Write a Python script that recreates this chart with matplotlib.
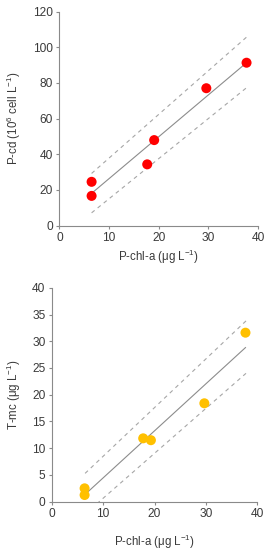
import matplotlib
matplotlib.use("Agg")
import matplotlib.pyplot as plt
import numpy as np

plt.rcParams['font.family'] = ['Liberation Sans', 'DejaVu Sans']
plt.rcParams['mathtext.fontset'] = 'custom'
plt.rcParams['mathtext.rm'] = 'Liberation Sans'
plt.rcParams['mathtext.it'] = 'Liberation Sans'
plt.rcParams['mathtext.default'] = 'regular'

# --- data (top panel) ---
chl_top = [6.5, 6.5, 17.7, 19.1, 29.6, 37.7]
pcd = [24.5, 16.6, 34.3, 47.9, 77.0, 91.3]
band_x_top = [6.5, 37.8]
upper_top = [29.2, 105.9]
lower_top = [7.1, 77.5]

# --- data (bottom panel) ---
chl_bot = [6.4, 6.4, 17.8, 19.3, 29.7, 37.7]
tmc = [2.5, 1.25, 11.85, 11.5, 18.4, 31.6]
band_x_bot = [6.5, 37.8]
upper_bot = [5.3, 33.8]
lower_bot = [-2.3, 24.0]

xticks = [0, 10, 20, 30, 40]
yticks_top = [0, 20, 40, 60, 80, 100, 120]
yticks_bot = [0, 5, 10, 15, 20, 25, 30, 35, 40]

fig = plt.figure(figsize=(2.69, 5.5), dpi=100)
ax1 = fig.add_axes([0.2205, 0.590, 0.7385, 0.389])
ax2 = fig.add_axes([0.1922, 0.0878, 0.7643, 0.389])

spine_c = '#8a8a8a'
text_c = '#3a3a3a'

def style(ax, yticks, ymax):
    ax.set_xlim(0, 40)
    ax.set_ylim(0, ymax)
    ax.set_xticks(xticks)
    ax.set_yticks(yticks)
    for s in ['top', 'right']:
        ax.spines[s].set_visible(False)
    for s in ['left', 'bottom']:
        ax.spines[s].set_color(spine_c)
        ax.spines[s].set_linewidth(0.8)
    ax.tick_params(direction='out', length=2.5, width=0.8, color=spine_c,
                   labelsize=8.6, labelcolor=text_c, pad=2)

def draw(ax, x, y, bx, up, lo, color):
    coef = np.polyfit(x, y, 1)
    fx = np.array([min(x), max(x)])
    ax.plot(fx, np.polyval(coef, fx), color='#8c8c8c', lw=0.8, zorder=2)
    ax.plot(bx, up, color='#a6a6a6', lw=0.8, ls=(0, (3.5, 3.5)), zorder=2)
    ax.plot(bx, lo, color='#a6a6a6', lw=0.8, ls=(0, (3.5, 3.5)), zorder=2)
    ax.scatter(x, y, s=52, color=color, edgecolors='none', zorder=3)

draw(ax1, chl_top, pcd, band_x_top, upper_top, lower_top, '#ff0000')
style(ax1, yticks_top, 120)
ax1.set_xlabel(r'P-chl-a (μg L$^{-1}$)', fontsize=8.3, color=text_c, labelpad=3)
ax1.set_ylabel(r'P-cd (10$^{6}$ cell L$^{-1}$)', fontsize=8.3, color=text_c, labelpad=7)

draw(ax2, chl_bot, tmc, band_x_bot, upper_bot, lower_bot, '#ffc000')
style(ax2, yticks_bot, 40)
ax2.set_xlabel(r'P-chl-a (μg L$^{-1}$)', fontsize=8.3, color=text_c, labelpad=9)
ax2.set_ylabel(r'T-mc (μg L$^{-1}$)', fontsize=8.3, color=text_c, labelpad=6.5)

fig.savefig('out.png', dpi=100)
